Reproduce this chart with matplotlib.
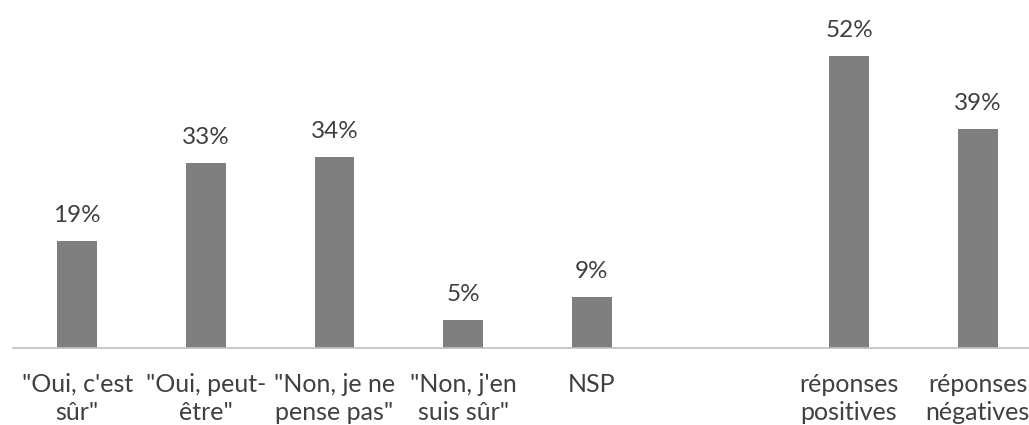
import numpy as np
import matplotlib.pyplot as plt

categories = ['"Oui, c\'est\nsûr"', '"Oui, peut-\nêtre"', '"Non, je ne\npense pas"',
              '"Non, j\'en\nsuis sûr"', 'NSP', '', 'réponses\npositives', 'réponses\nnégatives']
values = [19, 33, 34, 5, 9, None, 52, 39]
labels = ['19%', '33%', '34%', '5%', '9%', '', '52%', '39%']

plt.rcParams['font.family'] = ['Lato', 'DejaVu Sans']
text_color = '#404040'

fig = plt.figure(figsize=(10.29, 4.25), dpi=100)
ax = fig.add_axes([13 / 1029, 77 / 425, 1029 / 1029, 337 / 425])

x = np.arange(len(categories))
for xi, v, lab in zip(x, values, labels):
    if v is None:
        continue
    ax.bar(xi, v, width=0.31, color='#7f7f7f')
    ax.annotate(lab, (xi, v), xytext=(0, 19), textcoords='offset pixels',
                ha='center', va='baseline', fontsize=17.5, color=text_color)

# category labels under the axis, one text per line so each is centred
for xi, cat in zip(x, categories):
    for k, line in enumerate(cat.split('\n')):
        ax.annotate(line, (xi, 0), xycoords=('data', 'axes fraction'),
                    xytext=(0, -44 - 28 * k), textcoords='offset pixels',
                    ha='center', va='baseline', fontsize=18, color=text_color)

ax.set_xlim(-0.5, len(categories) - 0.5)
ax.set_ylim(0, 60)
ax.set_xticks([])
ax.set_yticks([])
for side in ['top', 'right', 'left']:
    ax.spines[side].set_visible(False)
ax.spines['bottom'].set_color('#bfbfbf')
ax.spines['bottom'].set_linewidth(1.2)

fig.savefig('out.png', dpi=100)
